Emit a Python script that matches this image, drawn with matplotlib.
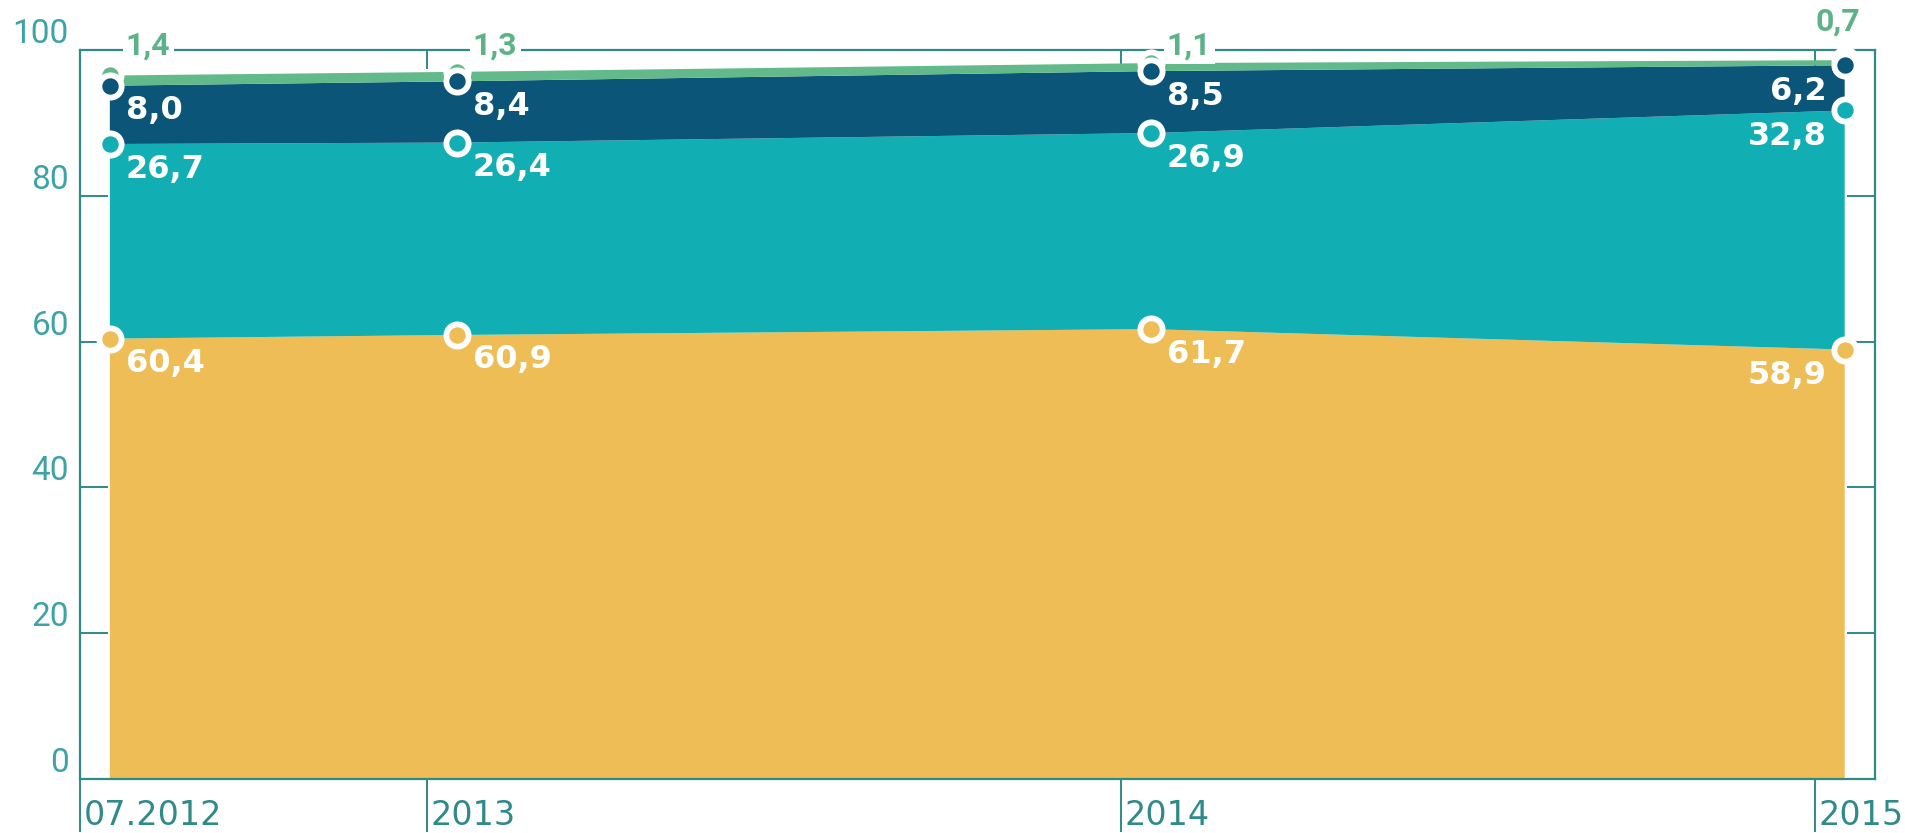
import matplotlib
matplotlib.use("Agg")
import matplotlib.pyplot as plt
import numpy as np

# ---- data ----
x_pos = [2012.5, 2013.0, 2014.0, 2015.0]
x_labels = ["07.2012", "2013", "2014", "2015"]
yellow_vals = [60.4, 60.9, 61.7, 58.9]
teal_vals = [26.7, 26.4, 26.9, 32.8]
dark_vals = [8.0, 8.4, 8.5, 6.2]
green_vals = [1.4, 1.3, 1.1, 0.7]
y_ticks = [0, 20, 40, 60, 80, 100]

# ---- style ----
C_YELLOW = "#EFBD55"
C_TEAL = "#11AFB3"
C_DARK = "#0A5578"
C_GREEN = "#62BA8B"
C_AXIS = "#2F8A8A"
C_TICKLBL = "#3DA3A6"
C_GREENTXT = "#5DB387"

fig = plt.figure(figsize=(19.05, 8.33), dpi=100)
ax = fig.add_axes([0.042, 0.065, 0.942, 0.875])

series = [yellow_vals, teal_vals, dark_vals, green_vals]
colors = [C_YELLOW, C_TEAL, C_DARK, C_GREEN]
ax.stackplot(x_pos, *series, colors=colors, linewidth=0, zorder=1)

cum = np.cumsum(np.array(series), axis=0)

ax.set_xlim(2012.457, 2015.043)
ax.set_ylim(0, 100)

for sp in ax.spines.values():
    sp.set_color(C_AXIS)
    sp.set_linewidth(1.6)

# y ticks: inward, both sides
ax.set_yticks(y_ticks)
ax.set_yticklabels([str(t) for t in y_ticks], fontfamily="Roboto",
                   fontsize=24, va="bottom", color=C_TICKLBL)
ax.tick_params(axis="y", direction="in", length=20, width=1.4, color=C_AXIS,
               left=True, right=True, labelleft=True, labelright=False,
               pad=8)

# x ticks: slightly left of data points
tick_shift = 0.043
x_ticks = [v - tick_shift for v in x_pos]
ax.set_xticks(x_ticks)
ax.set_xticklabels([])
ax.tick_params(axis="x", direction="out", length=38, width=1.4, color=C_AXIS,
               bottom=True, top=False)
sec = ax.secondary_xaxis("top")
sec.set_xticks(x_ticks)
sec.set_xticklabels([])
sec.tick_params(axis="x", direction="in", length=14, width=1.4, color=C_AXIS)
sec.spines["top"].set_visible(False)

for xt, lab in zip(x_ticks, x_labels):
    ax.annotate(lab, xy=(xt, 0), xycoords=("data", "axes fraction"),
                xytext=(4, -53), textcoords="offset pixels",
                ha="left", va="bottom", fontsize=24, color=C_AXIS,
                fontfamily="DejaVu Sans", annotation_clip=False)

# markers: green first (mostly hidden), then dark, teal, yellow
order = [3, 2, 1, 0]
for k in order:
    ax.plot(x_pos, cum[k], linestyle="none", marker="o", markersize=16,
            markerfacecolor=colors[k], markeredgecolor="white",
            markeredgewidth=4.2, zorder=3 + (3 - k), clip_on=False)

# white value labels for the three main bands
for k, vals in enumerate([yellow_vals, teal_vals, dark_vals]):
    for i, (xv, v) in enumerate(zip(x_pos, vals)):
        txt = f"{v:.1f}".replace(".", ",")
        if i == len(x_pos) - 1:
            off, ha = (-18, -26), "right"
        else:
            off, ha = (16, -25), "left"
        ax.annotate(txt, xy=(xv, cum[k][i]), xytext=off,
                    textcoords="offset pixels", ha=ha, va="center",
                    fontsize=23, fontweight="bold", color="white",
                    fontfamily="DejaVu Sans", zorder=10)

# green labels on the top line
for i, (xv, v) in enumerate(zip(x_pos, green_vals)):
    txt = f"{v:.1f}".replace(".", ",")
    if i == len(x_pos) - 1:
        off, ha = (16, 28), "right"
        bbox = None
    else:
        off, ha = (16, 4), "left"
        bbox = dict(boxstyle="square,pad=0.1", fc="white", ec="none")
    ax.annotate(txt, xy=(xv, 100), xytext=off, textcoords="offset pixels",
                ha=ha, va="center", fontsize=23, fontweight="bold",
                color=C_GREENTXT, fontfamily="Roboto", bbox=bbox,
                annotation_clip=False, zorder=10)

fig.savefig("out.png", dpi=100)
